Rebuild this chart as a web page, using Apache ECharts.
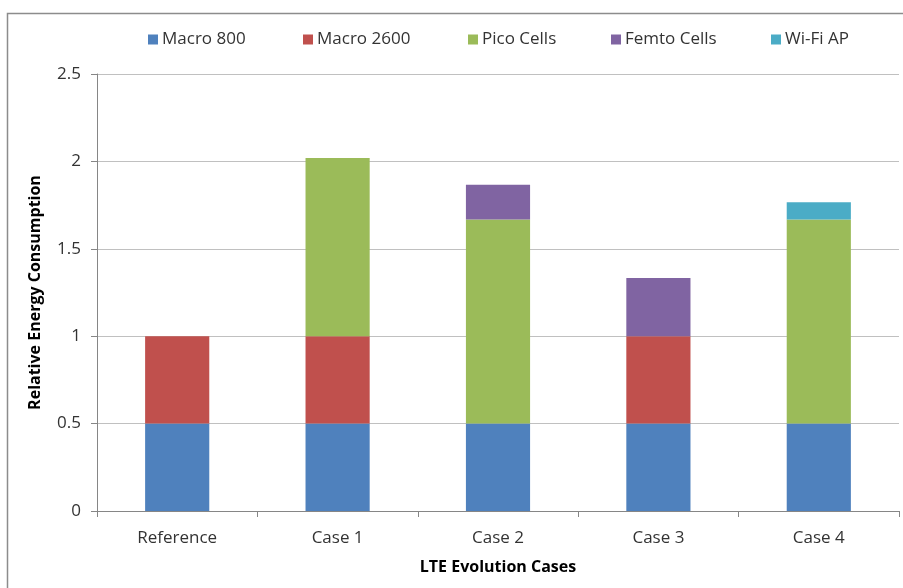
<!DOCTYPE html>
<html>
<head>
<meta charset="utf-8">
<script src="https://cdn.jsdelivr.net/npm/echarts@6/dist/echarts.min.js"></script>
<style>
html,body{margin:0;padding:0;background:#fff;}
#chart{width:903px;height:588px;}
</style>
</head>
<body>
<div id="chart"></div>
<script>
const categories = ['Reference', 'Case 1', 'Case 2', 'Case 3', 'Case 4'];
const seriesNames = ['Macro 800', 'Macro 2600', 'Pico Cells', 'Femto Cells', 'Wi-Fi AP'];
const macro800 = [0.5, 0.5, 0.5, 0.5, 0.5];
const macro2600 = [0.5, 0.5, 0, 0.5, 0];
const picoCells = [0, 1.02, 1.167, 0, 1.167];
const femtoCells = [0, 0, 0.2, 0.333, 0];
const wifiAP = [0, 0, 0, 0, 0.1];
const yTicks = [0, 0.5, 1, 1.5, 2, 2.5];

const colors = ['#4F81BD', '#C0504D', '#9BBB59', '#8064A2', '#4BACC6'];
const seriesData = [macro800, macro2600, picoCells, femtoCells, wifiAP];
const legendLefts = [148, 303, 468, 611, 771];
const FONT = 'Open Sans';
const TXT = '#333333';

const chart = echarts.init(document.getElementById('chart'), null, {renderer: 'canvas'});
const option = {
  animation: false,
  backgroundColor: '#fff',
  color: colors,
  textStyle: {fontFamily: FONT},
  graphic: [{
    type: 'rect',
    shape: {x: 7.5, y: 13.5, width: 1000, height: 1000},
    style: {fill: 'none', stroke: '#8c8c8c', lineWidth: 1.5},
    silent: true
  }],
  legend: seriesNames.map((n, i) => ({
    data: [n],
    left: legendLefts[i],
    top: 31,
    icon: 'rect',
    itemWidth: 10,
    itemHeight: 10,
    itemGap: 5,
    padding: 0,
    selectedMode: false,
    textStyle: {fontFamily: FONT, fontSize: 17, color: TXT, padding: [0, 0, 0, -1]}
  })),
  grid: {left: 97, right: 4, top: 74, bottom: 77, containLabel: false},
  xAxis: {
    type: 'category',
    data: categories,
    name: 'LTE Evolution Cases',
    nameLocation: 'middle',
    nameGap: 48,
    nameTextStyle: {fontFamily: FONT, fontSize: 16, fontWeight: 'bold', color: '#000'},
    axisLine: {lineStyle: {color: '#868686', width: 1}},
    axisTick: {show: true, length: 6, lineStyle: {color: '#868686'}},
    axisLabel: {fontFamily: FONT, fontSize: 17, color: TXT, margin: 19},
    boundaryGap: true
  },
  yAxis: {
    type: 'value',
    min: 0,
    max: 2.5,
    interval: 0.5,
    name: 'Relative Energy Consumption',
    nameLocation: 'middle',
    nameRotate: 90,
    nameGap: 54,
    nameTextStyle: {fontFamily: FONT, fontSize: 16, fontWeight: 'bold', color: '#000'},
    axisLine: {show: true, lineStyle: {color: '#868686', width: 1}},
    axisTick: {show: true, length: 6, lineStyle: {color: '#868686'}},
    splitLine: {show: true, lineStyle: {color: '#c0c0c0', width: 1}},
    axisLabel: {fontFamily: FONT, fontSize: 17, color: TXT, margin: 16,
      formatter: v => (yTicks.indexOf(v) >= 0 ? String(v) : '')}
  },
  series: seriesNames.map((n, i) => ({
    name: n,
    type: 'bar',
    stack: 'total',
    barWidth: '40%',
    data: seriesData[i],
    itemStyle: {color: colors[i]}
  }))
};
chart.setOption(option);
</script>
</body>
</html>
